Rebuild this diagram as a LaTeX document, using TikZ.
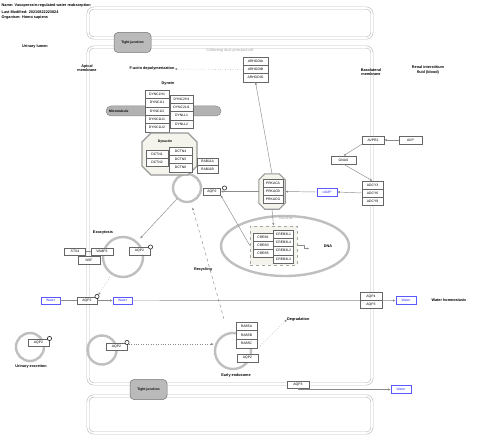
\documentclass[tikz,border=0pt]{standalone}
\usepackage{fontspec}
\setmainfont{Liberation Sans}
\usetikzlibrary{arrows.meta,calc}
\newcommand\gfnt{\fontsize{3.4}{4}\selectfont}
\newcommand\lfnt{\fontsize{3.8}{4.4}\selectfont}
\definecolor{cplx}{HTML}{F4F4EC}
\tikzset{
  gene/.style={draw=black!60, fill=white, line width=0.4pt, inner sep=0pt, minimum height=8pt, minimum width=21pt, font=\gfnt},
  metab/.style={gene, draw=blue!65, text=blue!80},
  lab/.style={font=\lfnt\bfseries, align=center, inner sep=0pt},
  glab/.style={font=\lfnt, text=black!35, inner sep=0pt},
  conn/.style={draw=black!45, line width=0.45pt},
  tip/.style={-{Latex[length=2.6pt,width=2.2pt]}, black!45},
  ring/.style={circle, draw=black!25, line width=2.4pt, inner sep=0pt},
  pmark/.style={circle, draw=black!85, line width=0.6pt, fill=white, inner sep=0pt, minimum size=4.2pt},
  cellb/.style={draw=black!25, double=white, double distance=1.6pt, line width=0.6pt, rounded corners=6pt},
  tjbox/.style={draw=black!55, fill=black!27, rounded corners=4pt, line width=0.5pt, minimum width=37pt, minimum height=20pt, font=\gfnt\bfseries, inner sep=0pt},
}
\begin{document}
\begin{tikzpicture}[x=1pt,y=-1pt]
\useasboundingbox[fill=white] (0,0) rectangle (480,444);
% header
\node[anchor=west, font=\lfnt\bfseries, inner sep=0pt] (h1) at (1.5,6) {Name: Vasopressin-regulated water reabsorption};
\node[anchor=west, font=\lfnt\bfseries, inner sep=0pt] (h2) at (1.5,12) {Last Modified: 20210822223824};
\node[anchor=west, font=\lfnt\bfseries, inner sep=0pt] (h3) at (1.5,18) {Organism: Homo sapiens};
% cells
\draw[cellb] (88,8) rectangle (372,38);
\draw[cellb] (88,47) rectangle (372,384);
\draw[cellb] (88,396) rectangle (372,433);
\node[tjbox] (tj1) at (132.5,42.5) {Tight junction};
\node[tjbox] (tj2) at (148.5,389.5) {Tight junction};
% labels
\node[lab] (ul) at (35,47) {Urinary lumen};
\node[lab] (am) at (87,68) {Apical\\membrane};
\node[glab] (cd) at (230,51) {Collecting duct principal cell};
\node[lab] (bm) at (371,72) {Basolateral\\membrane};
\node[lab] (ri) at (428,70) {Renal interstitium\\fluid (blood)};
\node[lab] (wh) at (449,300.5) {Water homeostasis};
\node[lab] (ue) at (31,367) {Urinary excretion};
\node[lab] (exl) at (103,233) {Exocytosis};
\node[lab] (rcl) at (203,270) {Recycling};
\node[lab] (eel) at (236,376) {Early endosome};
\node[lab, anchor=west] (deg) at (287,319.5) {Degradation};
\node[lab] (dna) at (328,246) {DNA};
\node[lab] (dynl) at (168,84) {Dynein};
\node[lab] (factin) at (152,69) {F-actin depolymerization};
% rings
\node[ring, minimum size=28pt] (ves1) at (187,188) {};
\node[ring, minimum size=40pt] (exo) at (123,257) {};
\node[ring, minimum size=28pt] (ue1) at (30,347) {};
\node[ring, minimum size=29pt] (endo) at (102,350) {};
\node[ring, minimum size=36pt] (ee) at (233,351) {};
\draw[draw=black!25, line width=2.4pt] (285,246) ellipse [x radius=64, y radius=30];
\node[glab] (nuc) at (286,218.5) {Nucleus};
% ARHGDI
\node[gene, minimum width=25pt, minimum height=8.3pt] (arhgdia) at (255.5,61.2) {ARHGDIA};
\node[gene, minimum width=25pt, minimum height=8.3pt] (arhgdib) at (255.5,69.5) {ARHGDIB};
\node[gene, minimum width=25pt, minimum height=8.3pt] (arhgdig) at (255.5,77.8) {ARHGDIG};
% microtubule
\node[draw=black!45, fill=black!30, rounded corners=5pt, minimum width=115pt, minimum height=10pt, inner sep=0pt, line width=0.5pt] (mt) at (163.5,111) {};
\node[font=\gfnt\bfseries, anchor=west, inner sep=0pt] (mtl) at (109,111) {Microtubule};
% dynein
\foreach \n/\y in {DYNC1H1/94.2, DYNC1I1/102.6, DYNC1I2/111, DYNC1LI1/119.4, DYNC1LI2/127.8}
  \node[gene, minimum width=24pt, minimum height=8.4pt] (\n) at (157,\y) {\n};
\foreach \n/\y in {DYNC2H1/99.2, DYNC2LI1/107.5, DYNLL1/115.8, DYNLL2/124.1}
  \node[gene, minimum width=23pt, minimum height=8.3pt] (\n) at (181.5,\y) {\n};
% dynactin
\draw[draw=black!40, fill=cplx, line width=1.1pt] (151,133) -- (188,133) -- (197,142) -- (197,166) -- (188,175) -- (151,175) -- (142,166) -- (142,142) -- cycle;
\node[lab, font=\gfnt\bfseries] (dctl) at (165,141.5) {Dynactin};
\node[gene, minimum width=22pt] (dctn1) at (157,154) {DCTN1};
\node[gene, minimum width=22pt] (dctn2) at (157,162) {DCTN2};
\node[gene, minimum width=23pt, minimum height=8.3pt] (dctn4) at (180.5,151.2) {DCTN4};
\node[gene, minimum width=23pt, minimum height=8.3pt] (dctn5) at (180.5,159.5) {DCTN5};
\node[gene, minimum width=23pt, minimum height=8.3pt] (dctn6) at (180.5,167.8) {DCTN6};
\node[gene, minimum height=7.5pt] (rab11a) at (207.5,161.8) {RAB11A};
\node[gene, minimum height=7.5pt] (rab11b) at (207.5,169.3) {RAB11B};
\node[gene, minimum width=17pt, minimum height=7pt] (aqpv) at (212,191.5) {AQP2};
\node[pmark] (pv) at (224.5,188) {};
% PRKAC
\node[minimum width=26pt, minimum height=35pt, inner sep=0pt] (prk) at (272,191.5) {};
\draw[draw=black!40, fill=cplx, line width=1.1pt] ($(prk.north west)+(6,0)$) -- ($(prk.north east)+(-6,0)$) -- ($(prk.north east)+(0,6)$) -- ($(prk.south east)+(0,-6)$) -- ($(prk.south east)+(-6,0)$) -- ($(prk.south west)+(6,0)$) -- ($(prk.south west)+(0,-6)$) -- ($(prk.north west)+(0,6)$) -- cycle;
\node[gene, minimum width=20pt] (prkaca) at (273,183.5) {PRKACA};
\node[gene, minimum width=20pt] (prkacb) at (273,191.5) {PRKACB};
\node[gene, minimum width=20pt] (prkacg) at (273,199.5) {PRKACG};
% CREB
\node[draw=black!35, dashed, fill=cplx, line width=0.4pt, minimum width=47pt, minimum height=39pt, inner sep=0pt] (creb) at (273.5,245.5) {};
\node[gene, minimum width=20pt] (creb1) at (263,237) {CREB1};
\node[gene, minimum width=20pt] (creb3) at (263,245) {CREB3};
\node[gene, minimum width=20pt] (creb5) at (263,253) {CREB5};
\node[gene, minimum width=20pt, minimum height=8.25pt] (c3l1) at (283.5,234.1) {CREB3L1};
\node[gene, minimum width=20pt, minimum height=8.25pt] (c3l4) at (283.5,242.4) {CREB3L4};
\node[gene, minimum width=20pt, minimum height=8.25pt] (c3l2) at (283.5,250.6) {CREB3L2};
\node[gene, minimum width=20pt, minimum height=8.25pt] (c3l3) at (283.5,258.9) {CREB3L3};
% right side
\node[gene, minimum width=22pt] (avpr2) at (373,140) {AVPR2};
\node[gene, minimum width=23pt] (avp) at (410.5,140) {AVP};
\node[gene, minimum width=25pt] (gnas) at (343.5,160) {GNAS};
\node[gene, minimum width=21pt] (adcy3) at (372.5,185) {ADCY3};
\node[gene, minimum width=21pt] (adcy6) at (372.5,193) {ADCY6};
\node[gene, minimum width=21pt] (adcy9) at (372.5,201) {ADCY9};
\node[metab, minimum width=20pt] (camp) at (327,192) {cAMP};
% exocytosis
\node[gene, minimum width=21pt, minimum height=7.5pt] (stx4) at (75,251.5) {STX4};
\node[gene, minimum width=22pt, minimum height=7.5pt] (vamp2) at (102,251.5) {VAMP2};
\node[gene, minimum width=22pt, minimum height=8pt] (nsf) at (89,260) {NSF};
\node[gene, minimum width=21pt, minimum height=7.5pt] (aqpx) at (139.5,251) {AQP2};
\node[pmark] (px) at (150.5,247) {};
% water row
\node[metab, minimum width=19pt, minimum height=6.5pt] (wl) at (50.5,300.5) {Water};
\node[gene, minimum width=20pt, minimum height=7pt] (aqpm) at (87,300.5) {AQP2};
\node[pmark] (pm) at (97,296.5) {};
\node[metab, minimum width=19pt, minimum height=6.5pt] (win) at (122.5,300.5) {Water};
\node[gene, minimum width=22pt] (aqp4) at (371,296.5) {AQP4};
\node[gene, minimum width=22pt] (aqp3) at (371,304.5) {AQP3};
\node[metab, minimum width=20pt, minimum height=8pt] (wr) at (406,300.5) {Water};
% urinary excretion
\node[gene, minimum width=21pt, minimum height=7pt] (aqpu) at (38.5,342.5) {AQP2};
\node[pmark] (pu) at (49.5,338.5) {};
% endocytosis
\node[gene, minimum width=21pt, minimum height=7pt] (aqpe) at (116.5,346.5) {AQP2};
\node[pmark] (pe) at (127,342.5) {};
% early endosome
\node[gene, minimum width=21pt, minimum height=8.6pt] (rab5a) at (246.5,326.3) {RAB5A};
\node[gene, minimum width=21pt, minimum height=8.6pt] (rab5b) at (246.5,334.9) {RAB5B};
\node[gene, minimum width=21pt, minimum height=8.6pt] (rab5c) at (246.5,343.5) {RAB5C};
\node[gene, minimum width=21pt, minimum height=8pt] (aqpee) at (247.5,358) {AQP2};
% bottom
\node[gene, minimum width=22pt, minimum height=7.5pt] (aqp3b) at (298,384.5) {AQP3};
\node[metab, minimum width=20pt, minimum height=8pt] (wb) at (401,389.5) {Water};
% connectors
\draw[conn, dotted, tip] (arhgdib.west) -- (factin.east);
\draw[conn, tip] (prk.north) -- (arhgdig.south);
\draw[conn, tip] (prk.west) -- (aqpv.east);
\draw[conn, tip] (camp.west) -- (prk.east);
\draw[conn, tip] (adcy6.west) -- (camp.east);
\draw[conn, tip] (avp.west) -- (avpr2.east);
\draw[conn, tip] (avpr2.south west) -- (gnas.north);
\draw[conn, tip] (gnas.south) -- (adcy3.north);
\draw[conn, tip] (prk.south) -- (creb.north);
\draw[conn, tip] (creb.west) -- (aqpv.south east);
\draw[conn, tip, shorten >=4pt] (ves1) -- (exo);
\draw[conn, dotted, tip, shorten >=2pt, shorten <=3pt] (exo) -- (aqpm.north east);
\draw[conn, dashed, tip, shorten <=14pt, shorten >=5pt] (ee) -- (ves1);
\draw[conn] (stx4.east) -- (vamp2.west);
\draw[conn] (wl.east) -- (aqpm.west);
\draw[conn, tip] (aqpm.east) -- (win.west);
\draw[conn] (win.east) -- (aqp4.south west);
\draw[conn, tip] (aqp4.south east) -- (wr.west);
\draw[conn, dotted, tip] (pe.south east) -- (pe.south east -| ee.west);
\draw[conn, dotted, tip] ($(rab5c.east)+(3,2)$) -- (deg.west);
\draw[conn, tip] (aqp3b.south) |- (wb.west);
\draw[conn] (creb.east) -- ++(7,0) -- ++(0,3);
\draw[conn, -{Latex[length=2pt,width=1.8pt]}, black!45] ($(creb.east)+(7,3)$) -- ++(5,0);
\end{tikzpicture}
\end{document}
